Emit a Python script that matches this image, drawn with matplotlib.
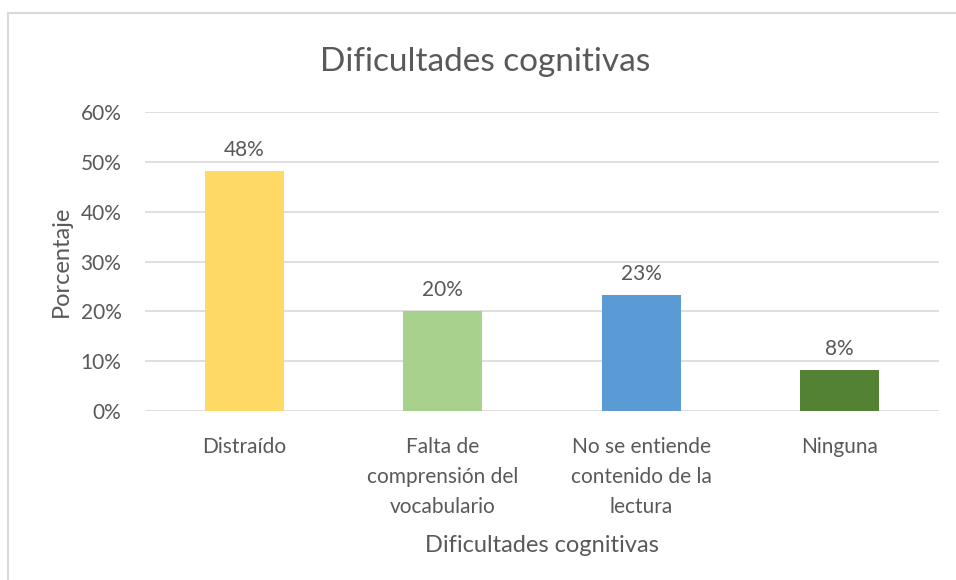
import matplotlib.pyplot as plt
from matplotlib.patches import Rectangle
from matplotlib.ticker import PercentFormatter

categorias = ["Distraído", "Falta de\ncomprensión del\nvocabulario",
              "No se entiende\ncontenido de la\nlectura", "Ninguna"]
valores = [0.482, 0.20, 0.232, 0.082]
etiquetas = ["48%", "20%", "23%", "8%"]
colores = ["#FFD966", "#A9D18E", "#5B9BD5", "#548235"]

plt.rcParams["font.family"] = ["Lato", "DejaVu Sans"]
texto = "#595959"

W, H = 956, 580
fig = plt.figure(figsize=(W / 100, H / 100), dpi=100)
ax = fig.add_axes([145 / W, 1 - 411 / H, 794 / W, 299 / H])

x = range(len(categorias))
barras = ax.bar(x, valores, width=0.4, color=colores, zorder=3)
for b, lab in zip(barras, etiquetas):
    ax.annotate(lab, (b.get_x() + b.get_width() / 2, b.get_height()),
                xytext=(0, 8), textcoords="offset points",
                ha="center", va="bottom", fontsize=15, color=texto)

ax.set_xlim(-0.5, len(categorias) - 0.5)
ax.set_ylim(0, 0.6)
ax.set_yticks([0, 0.1, 0.2, 0.3, 0.4, 0.5, 0.6])
ax.yaxis.set_major_formatter(PercentFormatter(1.0, decimals=0))
ax.set_xticks(list(x))
ax.set_xticklabels(categorias, fontsize=15, color=texto, linespacing=1.6)
ax.tick_params(axis="y", labelsize=15, labelcolor=texto, length=0, pad=17)
ax.tick_params(axis="x", length=0, pad=19)
ax.grid(axis="y", color="#D9D9D9", linewidth=1.2, zorder=0)
for s in ax.spines.values():
    s.set_visible(False)

ax.set_ylabel("Porcentaje", fontsize=17, color=texto, labelpad=6)
ax.set_xlabel("Dificultades cognitivas", fontsize=17, color=texto, labelpad=13)
fig.text(485 / W, 1 - 62 / H, "Dificultades cognitivas",
         ha="center", va="center", fontsize=24, color=texto)

fig.patches.append(Rectangle((7.5 / W, -0.1), 1.2, (H - 13) / H + 0.1,
                             transform=fig.transFigure, fill=False,
                             edgecolor="#D9D9D9", linewidth=1.5))

fig.savefig("out.png", dpi=100)
